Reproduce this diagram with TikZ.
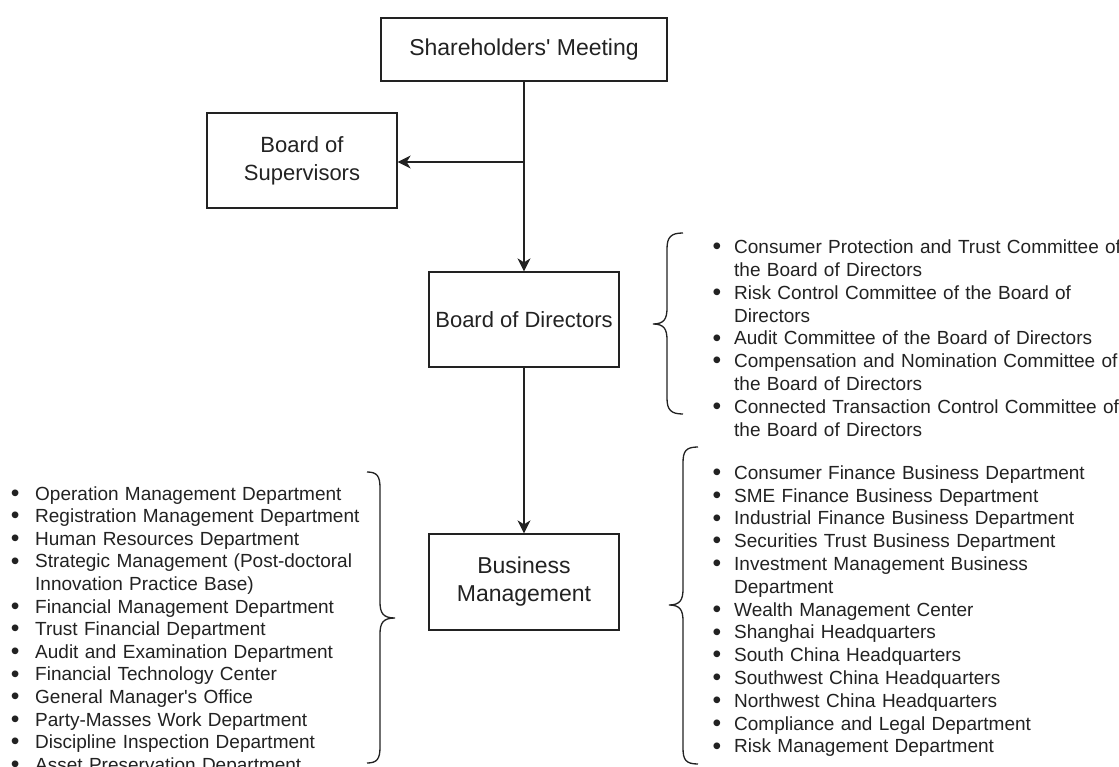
\documentclass[tikz,border=0pt]{standalone}
\usepackage{fontspec}
\usepackage{graphicx}
\setmainfont{Liberation Sans}
\usetikzlibrary{arrows.meta}
\definecolor{ink}{RGB}{34,34,34}
\newlength\bsep
\newcommand\li[1]{\par\noindent\llap{\raisebox{-1.2pt}{\scalebox{1.3}{\textbullet}}\hspace{\bsep}}#1}
\begin{document}
\begin{tikzpicture}[x=1pt,y=-1pt,
  box/.style={draw=ink, line width=1.3pt, text=ink, align=center, inner sep=0pt, font=\fontsize{23}{28}\selectfont},
  arr/.style={draw=ink, line width=1.3pt, -{Stealth[length=13pt,width=13pt,inset=4pt]}},
  brc/.style={draw=ink, line width=1.3pt},
  lst/.style={anchor=north west, inner sep=0pt, text=ink, text width=420pt, font=\fontsize{19}{22.8}\selectfont}]
\useasboundingbox (0,0) rectangle (1119,767);
\fill[white] (0,0) rectangle (1119,767);

\node[box, minimum width=286pt, minimum height=63pt] (sh) at (524,49.5) {Shareholders\textquotesingle{} Meeting};
\node[box, minimum width=190pt, minimum height=95pt, font=\fontsize{22}{28}\selectfont] (sup) at (302,160.5) {Board of\\Supervisors};
\node[box, minimum width=190pt, minimum height=95pt, font=\fontsize{22}{28}\selectfont] (dir) at (524,319.5) {Board of Directors};
\node[box, minimum width=190pt, minimum height=96pt] (bm) at (524,582) {Business\\Management};

\coordinate (j) at (524,162);
\draw[arr] (sh.south) -- (dir.north);
\draw[arr] (j) -- (j -| sup.east);
\draw[arr] (dir.south) -- (bm.north);

% braces
\draw[brc] (683,233) .. controls (671,233) and (667,237) .. (667,249) -- (667,308)
  .. controls (667,319) and (664,324) .. (653,324)
  .. controls (664,324) and (667,329) .. (667,340) -- (667,398)
  .. controls (667,410) and (671,414) .. (683,414);
\draw[brc] (698,447) .. controls (686,447) and (683,451) .. (683,463) -- (683,589)
  .. controls (683,600) and (680,605) .. (669,605)
  .. controls (680,605) and (683,610) .. (683,621) -- (683,748)
  .. controls (683,760) and (686,764) .. (698,764);
\draw[brc] (367,472) .. controls (377,472) and (380,476) .. (380,488) -- (380,602)
  .. controls (380,613) and (383,618) .. (395,618)
  .. controls (383,618) and (380,623) .. (380,634) -- (380,747)
  .. controls (380,759) and (377,763) .. (367,763);

\node[lst] (dirlist) at (734,230.7) {\setlength{\bsep}{13pt}%
\li{\rule{0pt}{16pt}Consumer Protection and Trust Committee of\newline the Board of Directors}
\li{Risk Control Committee of the Board of\newline Directors}
\li{Audit Committee of the Board of Directors}
\li{Compensation and Nomination Committee of\newline the Board of Directors}
\li{Connected Transaction Control Committee of\newline the Board of Directors}\par};

\node[lst] (rightlist) at (734,456.3) {\setlength{\bsep}{13pt}%
\li{\rule{0pt}{16pt}Consumer Finance Business Department}
\li{SME Finance Business Department}
\li{Industrial Finance Business Department}
\li{Securities Trust Business Department}
\li{Investment Management Business\newline Department}
\li{Wealth Management Center}
\li{Shanghai Headquarters}
\li{South China Headquarters}
\li{Southwest China Headquarters}
\li{Northwest China Headquarters}
\li{Compliance and Legal Department}
\li{Risk Management Department}\par};

\node[lst, font=\fontsize{19}{22.6}\selectfont] (leftlist) at (35,477.3) {\setlength{\bsep}{15.7pt}%
\li{\rule{0pt}{16pt}Operation Management Department}
\li{Registration Management Department}
\li{Human Resources Department}
\li{Strategic Management (Post-doctoral\newline Innovation Practice Base)}
\li{Financial Management Department}
\li{Trust Financial Department}
\li{Audit and Examination Department}
\li{Financial Technology Center}
\li{General Manager\textquotesingle{}s Office}
\li{Party-Masses Work Department}
\li{Discipline Inspection Department}
\li{Asset Preservation Department}\par};
\end{tikzpicture}
\end{document}
